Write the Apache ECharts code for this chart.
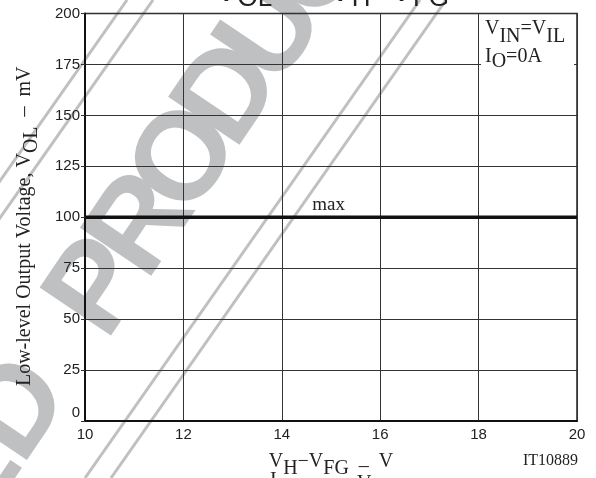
<!DOCTYPE html>
<html><head><meta charset="utf-8">
<script src="https://cdn.jsdelivr.net/npm/echarts@6/dist/echarts.min.js"></script>
<style>html,body{margin:0;padding:0;background:#fff}#c{width:596px;height:478px}</style>
</head><body><div id="c"></div>
<script>
// ---- data ----
const vhVfg = [10, 20];            // V_H - V_FG (V)
const volMax = [100, 100];         // V_OL max (mV)
const xTickValues = [10, 12, 14, 16, 18, 20];
const yTickValues = [0, 25, 50, 75, 100, 125, 150, 175, 200];
const curveLabel = 'max';
const curveLabelAt = 14.95;
const figureId = 'IT10889';

const chart = echarts.init(document.getElementById('c'), null, {renderer: 'canvas'});
const serif = '"Liberation Serif", "Times New Roman", serif';
const sans = '"Liberation Sans", Arial, sans-serif';
const wmColor = '#bfc0c2';
const deg = Math.PI / 180;

function wmLine(x1, y1, x2, y2) {
  return {type: 'line', z: -10, silent: true,
    shape: {x1, y1, x2, y2}, style: {stroke: wmColor, lineWidth: 3}};
}
// watermark letters placed along a rotated baseline
const wmFont = 'bold 125px ' + sans;
function wmLetter(ch, lx, align) {
  return {type: 'text', x: lx, y: -39, z: -10, silent: true,
    style: {text: ch, font: wmFont, fill: wmColor, textAlign: align || 'left', textVerticalAlign: 'middle'}};
}

const option = {
  backgroundColor: '#fff',
  animation: false,
  grid: {left: 85, right: 19, top: 13.5, bottom: 57, show: true,
    backgroundColor: 'transparent', borderColor: '#222', borderWidth: 1.5,
    outerBoundsMode: 'none'},
  xAxis: {
    type: 'value', min: xTickValues[0], max: xTickValues[xTickValues.length - 1], interval: 2,
    axisLine: {show: true, onZero: false, lineStyle: {color: '#111', width: 2}},
    axisTick: {show: false},
    axisLabel: {color: '#222', fontFamily: sans, fontSize: 15, margin: 6,
      showMinLabel: true, showMaxLabel: true},
    splitLine: {show: true, lineStyle: {color: '#333', width: 1}},
    name: '{v|V}{s|H}{v|−V}{s|FG}{d|  –  }{v|V}',
    nameLocation: 'middle', nameGap: 31,
    nameMoveOverlap: false,
    nameTextStyle: {color: '#222', fontFamily: serif, fontSize: 20,
      rich: {
        v: {fontFamily: serif, fontSize: 20, color: '#222', padding: [0, 0, 7, 0], verticalAlign: 'bottom'},
        s: {fontFamily: serif, fontSize: 20, color: '#222', verticalAlign: 'bottom'},
        d: {fontFamily: serif, fontSize: 20, color: '#222', padding: [0, 0, 2, 0], verticalAlign: 'bottom'}
      }}
  },
  yAxis: {
    type: 'value', min: yTickValues[0], max: yTickValues[yTickValues.length - 1], interval: 25,
    axisLine: {show: true, onZero: false, lineStyle: {color: '#111', width: 2}},
    axisTick: {show: true, inside: false, length: 4, lineStyle: {color: '#333', width: 1}},
    axisLabel: {color: '#222', fontFamily: sans, fontSize: 15, margin: 5,
      showMinLabel: true, showMaxLabel: true,
      formatter: v => (v === yTickValues[0] ? '{z|' + v + '}' : String(v)),
      rich: {z: {fontFamily: sans, fontSize: 15, color: '#222', padding: [0, 0, 16, 0]}}},
    splitLine: {show: true, lineStyle: {color: '#333', width: 1}},
    name: '{t|Low-level Output Voltage, }{v|V}{s|OL}{t|  –  mV}',
    nameLocation: 'middle', nameGap: 43, nameRotate: 90,
    nameMoveOverlap: false,
    nameTextStyle: {color: '#222', fontFamily: serif, fontSize: 20, padding: [0, 18, 0, 0],
      rich: {
        t: {fontFamily: serif, fontSize: 20, color: '#222', padding: [0, 0, 7, 0], verticalAlign: 'bottom'},
        v: {fontFamily: serif, fontSize: 20, color: '#222', padding: [0, 0, 7, 0], verticalAlign: 'bottom'},
        s: {fontFamily: serif, fontSize: 20, color: '#222', verticalAlign: 'bottom'}
      }}
  },
  series: [{
    type: 'line',
    data: vhVfg.map((x, i) => [x, volMax[i]]),
    symbol: 'none',
    lineStyle: {color: '#111', width: 3.3},
    z: 5,
    markPoint: {
      symbol: 'circle', symbolSize: 0, silent: true,
      data: [{coord: [curveLabelAt, volMax[0]], value: curveLabel}],
      label: {show: true, position: 'top', distance: 3, formatter: curveLabel,
        color: '#222', fontFamily: serif, fontSize: 19}
    }
  }],
  graphic: [
    // watermark lines
    wmLine(127, 0, -5, 188),
    wmLine(153, 0, -5, 225),
    wmLine(420, 0, 85, 478),
    wmLine(446, 0, 111, 478),
    // watermark letters
    {type: 'group', x: 110, y: 345, rotation: 56 * deg, z: -10, silent: true,
      children: [
        wmLetter('P', 0), wmLetter('R', 72), wmLetter('O', 148), wmLetter('D', 230),
        wmLetter('U', 306), wmLetter('C', 382), wmLetter('T', 458),
        wmLetter('D', -60, 'right'), wmLetter('E', -146, 'right')
      ]},
    // cut-off title at top
    {type: 'text', x: 332, y: 12, z: 20, silent: true,
      style: {text: '{v|V}{s|OL}{v|  –  V}{s|H}{v|−V}{s|FG}', textAlign: 'center', textVerticalAlign: 'bottom',
        rich: {
          v: {fontFamily: sans, fontSize: 34, fill: '#222', padding: [0, 0, 3, 0], verticalAlign: 'bottom'},
          s: {fontFamily: sans, fontSize: 26, fill: '#222', verticalAlign: 'bottom'}
        }}},
    // conditions box
    {type: 'rect', z: 50, silent: true, shape: {x: 481, y: 15, width: 93, height: 58},
      style: {fill: '#fff'}},
    {type: 'text', x: 485, y: 47, z: 60, silent: true,
      style: {text: '{v|V}{s|IN}{v|=V}{s|IL}', textAlign: 'left', textVerticalAlign: 'bottom',
        rich: {
          v: {fontFamily: serif, fontSize: 20, fill: '#222', padding: [0, 0, 8, 0], verticalAlign: 'bottom', lineHeight: 20},
          s: {fontFamily: serif, fontSize: 20, fill: '#222', verticalAlign: 'bottom', lineHeight: 20}
        }}},
    {type: 'text', x: 485, y: 72, z: 60, silent: true,
      style: {text: '{v|I}{s|O}{v|=0A}', textAlign: 'left', textVerticalAlign: 'bottom',
        rich: {
          v: {fontFamily: serif, fontSize: 20, fill: '#222', padding: [0, 0, 5, 0], verticalAlign: 'bottom', lineHeight: 20},
          s: {fontFamily: serif, fontSize: 20, fill: '#222', verticalAlign: 'bottom', lineHeight: 20}
        }}},
    // figure id
    {type: 'text', x: 578, y: 461, z: 20, silent: true,
      style: {text: figureId, font: '16px ' + serif, fill: '#222', textAlign: 'right', textVerticalAlign: 'middle'}},
    // cut-off text at the bottom
    {type: 'text', x: 270, y: 471, z: 20, silent: true,
      style: {text: 'I', font: '20px ' + serif, fill: '#222', textAlign: 'left', textVerticalAlign: 'top'}},
    {type: 'text', x: 357, y: 474, z: 20, silent: true,
      style: {text: 'V', font: '20px ' + serif, fill: '#222', textAlign: 'left', textVerticalAlign: 'top'}}
  ]
};
chart.setOption(option);
</script>
</body></html>
